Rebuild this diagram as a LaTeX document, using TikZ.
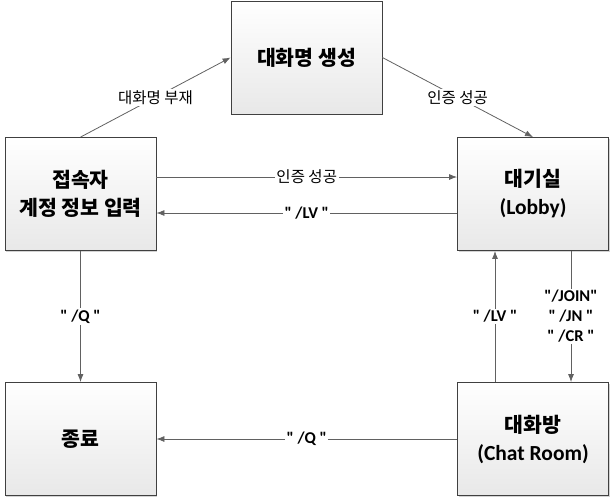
\documentclass[tikz,border=0pt]{standalone}
\usepackage{fontspec}
\setmainfont{Noto Sans CJK KR}
\newfontfamily\lat{Carlito}[Ligatures=ResetAll]
\usetikzlibrary{arrows.meta,shadows}
\newcommand\qq{\symbol{34}}
\begin{document}
\begin{tikzpicture}[x=1pt,y=-1pt,
  box/.style={draw=black!75, line width=0.8pt, top color=white, bottom color=black!9,
    minimum width=151pt, minimum height=113pt, align=center, inner sep=0pt,
    font=\fontsize{20.5}{28}\selectfont\bfseries,
    drop shadow={shadow xshift=1.2pt, shadow yshift=-1.2pt, opacity=0.35, fill=black!50}},
  conn/.style={draw=black!62, line width=0.8pt, -{Latex[length=8pt,width=6pt]}},
  lbl/.style={fill=white, inner sep=1.5pt, font=\fontsize{15.5}{18}\selectfont},
  blbl/.style={lbl, font=\fontsize{16.5}{20}\selectfont\lat\bfseries, align=center}]
\useasboundingbox (0,0) rectangle (612,499);
\node[box] (top) at (306.5,57.5) {대화명 생성};
\node[box] (login) at (80.5,194) {접속자\\계정 정보 입력};
\node[box] (lobby) at (533,194) {대기실\\{\lat\fontsize{21.5}{28}\selectfont(Lobby)}};
\node[box] (quit) at (80.5,439) {종료};
\node[box] (room) at (533,439) {대화방\\{\lat\fontsize{21.5}{28}\selectfont(Chat Room)}};
\draw[conn] (login.north) -- node[lbl] {대화명 부재} (top.west);
\draw[conn] (top.east) -- node[lbl] {인증 성공} (lobby.north);
\draw[conn] ([yshift=17pt]login.east) -- node[lbl] {인증 성공} ([yshift=17pt]lobby.west);
\draw[conn] ([yshift=-19pt]lobby.west) -- node[blbl] {\qq{} /LV \qq} ([yshift=-19pt]login.east);
\draw[conn] (login.south) -- node[blbl] {\qq{} /Q \qq} (quit.north);
\draw[conn] ([xshift=-38pt]room.north) -- node[blbl] {\qq{} /LV \qq} ([xshift=-38pt]lobby.south);
\draw[conn] ([xshift=38pt]lobby.south) -- node[blbl] {\qq/JOIN\qq\\\qq{} /JN \qq\\\qq{} /CR \qq} ([xshift=38pt]room.north);
\draw[conn] (room.west) -- node[blbl] {\qq{} /Q \qq} (quit.east);
\end{tikzpicture}
\end{document}
